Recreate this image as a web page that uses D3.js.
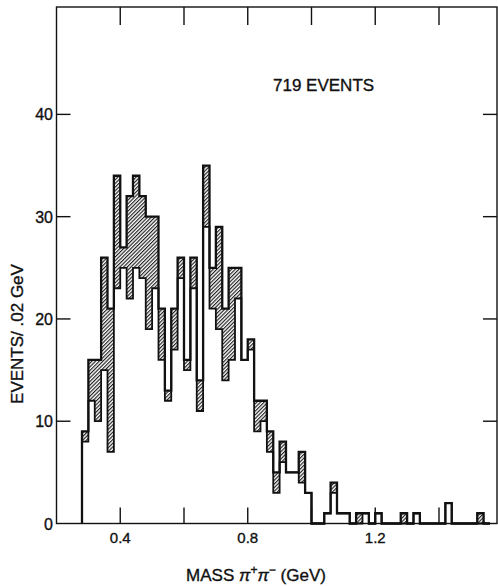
<!DOCTYPE html>
<html>
<head>
<meta charset="utf-8">
<script src="https://cdn.jsdelivr.net/npm/d3@7"></script>
<style>
  html, body { margin: 0; padding: 0; background: #fff; }
  svg { display: block; }
  text { font-family: "Liberation Sans", Arial, sans-serif; fill: #111; stroke: #111; stroke-width: 0.35; }
</style>
</head>
<body>
<svg id="chart" width="498" height="586"></svg>
<script>
// Bin layout: 0.02 GeV bins starting at 0.28 GeV
const binStart = 0.28;
const binWidth = 0.02;

// All events per bin (outer histogram), 0.28 .. 1.56 GeV
const totalCounts = [
  9, 16, 16, 26, 21, 34, 27, 32, 34, 32, 30, 30, 21, 13, 21, 26, 16, 26,
  14, 35, 25, 29, 21, 25, 25, 16, 18, 12, 12, 9, 5, 8, 5, 5, 7, 3,
  0, 0, 1, 4, 1, 1, 0, 1, 1, 0, 1, 0, 0, 0, 1, 0, 1, 0, 0, 0, 0, 2, 0, 0, 0, 0, 1, 0
];

// Unambiguous events per bin (inner histogram); the hatched band lies between the two
const lowerCounts = [
  8, 12, 10, 15, 7, 23, 25, 22, 25, 24, 19, 23, 16, 12, 17, 24, 15, 23,
  11, 29, 21, 19, 14, 16, 22, 16, 17, 9, 10, 7, 3, 6, 5, 5, 4, 3,
  0, 0, 1, 3, 1, 1, 0, 0, 1, 0, 1, 0, 0, 0, 0, 0, 1, 0, 0, 0, 0, 2, 0, 0, 0, 0, 0, 0
];

// Axis ticks and labels
const yTicks = [10, 20, 30, 40];
const yLabels = [0, 10, 20, 30, 40];
const xTicks = [0.4, 0.6, 0.8, 1.0, 1.2, 1.4];
const xLabels = [0.4, 0.8, 1.2];

const svg = d3.select("#chart");

const x = d3.scaleLinear().domain([0.2, 1.582]).range([56.5, 497]);
const y = d3.scaleLinear().domain([0, 50.5]).range([523.5, 7]);

// Diagonal hatching
const defs = svg.append("defs");
const pat = defs.append("pattern")
  .attr("id", "hatch")
  .attr("patternUnits", "userSpaceOnUse")
  .attr("width", 2.6)
  .attr("height", 2.6)
  .attr("patternTransform", "rotate(45)");
pat.append("line")
  .attr("x1", 0.6).attr("y1", -1).attr("x2", 0.6).attr("y2", 4)
  .attr("stroke", "#111").attr("stroke-width", 1.1);

// Step points: rise at the first edge, fall after the last bin
function stepPoints(counts) {
  const pts = [{ m: binStart, v: 0 }];
  counts.forEach((c, i) => pts.push({ m: binStart + i * binWidth, v: c }));
  pts.push({ m: binStart + counts.length * binWidth, v: 0 });
  return pts;
}

const bands = totalCounts.map((c, i) => ({
  m: binStart + i * binWidth, hi: c, lo: lowerCounts[i]
}));
bands.push({ m: binStart + totalCounts.length * binWidth, hi: 0, lo: 0 });

const area = d3.area()
  .curve(d3.curveStepAfter)
  .x(d => x(d.m))
  .y0(d => y(d.lo))
  .y1(d => y(d.hi));

svg.append("path")
  .datum(bands)
  .attr("d", area)
  .attr("fill", "url(#hatch)");

const line = d3.line()
  .curve(d3.curveStepAfter)
  .x(d => x(d.m))
  .y(d => y(d.v));

svg.append("path")
  .datum(stepPoints(lowerCounts))
  .attr("d", line)
  .attr("fill", "none")
  .attr("stroke", "#111")
  .attr("stroke-width", 1.8);

svg.append("path")
  .datum(stepPoints(totalCounts))
  .attr("d", line)
  .attr("fill", "none")
  .attr("stroke", "#111")
  .attr("stroke-width", 2.3);

// Frame
const frame = svg.append("g").attr("stroke", "#111").attr("stroke-width", 1.4).attr("fill", "none");
frame.append("rect")
  .attr("x", x.range()[0]).attr("y", y.range()[1])
  .attr("width", x.range()[1] - x.range()[0])
  .attr("height", y.range()[0] - y.range()[1]);

// Inward ticks on all four sides
yTicks.forEach(t => {
  frame.append("line").attr("x1", x.range()[0]).attr("x2", x.range()[0] + 14)
    .attr("y1", y(t)).attr("y2", y(t));
  frame.append("line").attr("x1", x.range()[1]).attr("x2", x.range()[1] - 14)
    .attr("y1", y(t)).attr("y2", y(t));
});
xTicks.forEach(t => {
  frame.append("line").attr("x1", x(t)).attr("x2", x(t))
    .attr("y1", y.range()[1]).attr("y2", y.range()[1] + 18);
  frame.append("line").attr("x1", x(t)).attr("x2", x(t))
    .attr("y1", y.range()[0]).attr("y2", y.range()[0] - 16);
});

// Tick labels
svg.append("g").selectAll("text").data(yLabels).join("text")
  .attr("x", 53)
  .attr("y", d => y(d) + 6)
  .attr("text-anchor", "end")
  .attr("font-size", 16)
  .text(d => d);

svg.append("g").selectAll("text").data(xLabels).join("text")
  .attr("x", d => x(d))
  .attr("y", 543)
  .attr("text-anchor", "middle")
  .attr("font-size", 15)
  .text(d => d.toFixed(1));

// Axis titles
svg.append("text")
  .attr("transform", "translate(23,334) rotate(-90)")
  .attr("text-anchor", "middle")
  .attr("font-size", 17)
  .text("EVENTS/ .02 GeV");

const xt = svg.append("text")
  .attr("x", 256)
  .attr("y", 581)
  .attr("text-anchor", "middle")
  .attr("font-size", 17);
xt.append("tspan").text("MASS  ");
xt.append("tspan").attr("font-style", "italic").text("\u03C0");
xt.append("tspan").attr("baseline-shift", "super").attr("font-size", 12).text("+");
xt.append("tspan").attr("font-style", "italic").text("\u03C0");
xt.append("tspan").attr("baseline-shift", "super").attr("font-size", 12).text("\u2212");
xt.append("tspan").text(" (GeV)");

svg.append("text")
  .attr("x", 273)
  .attr("y", 91)
  .attr("font-size", 17)
  .text("719 EVENTS");
</script>
</body>
</html>
